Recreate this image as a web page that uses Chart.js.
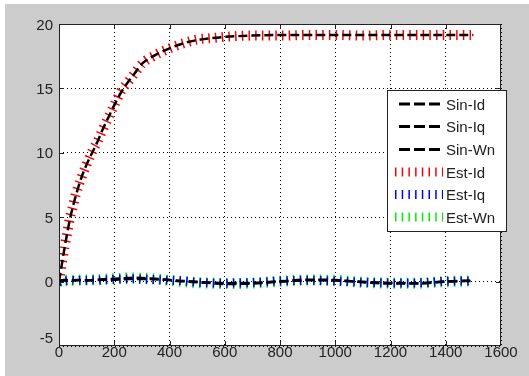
<!DOCTYPE html>
<html>
<head>
<meta charset="utf-8">
<script src="https://cdn.jsdelivr.net/npm/chart.js@4/dist/chart.umd.min.js"></script>
<style>
  html, body { margin: 0; padding: 0; background: #fff; }
  #wrap { width: 529px; height: 376px; }
</style>
</head>
<body>
<div id="wrap"><canvas id="myChart" width="529" height="376"></canvas></div>
<script>
// time axis samples
const time = [0, 10, 20, 30, 40, 50, 60, 80, 100, 120, 140, 160, 180, 200, 225, 250, 275, 300,
  350, 400, 450, 500, 550, 600, 700, 800, 900, 1000, 1100, 1200, 1300, 1400, 1500];

// simulated values
const sinId = [0, 1.3, 2.6, 3.8, 4.9, 5.8, 6.6, 8.0, 9.1, 10.0, 10.9, 11.9, 12.8, 13.7, 14.7, 15.5, 16.2, 16.9,
  17.6, 18.1, 18.5, 18.75, 18.9, 19.0, 19.1, 19.15, 19.15, 19.15, 19.15, 19.15, 19.15, 19.15, 19.15];
const sinIq = [0, 0.05, 0.08, 0.1, 0.1, 0.1, 0.1, 0.1, 0.1, 0.1, 0.12, 0.15, 0.15, 0.15, 0.18, 0.2, 0.2, 0.2,
  0.18, 0.12, 0.05, -0.02, -0.08, -0.12, -0.1, 0.02, 0.1, 0.08, -0.02, -0.1, -0.12, 0.0, 0.05];
const sinWn = [0, 0.1, 0.12, 0.12, 0.12, 0.1, 0.12, 0.12, 0.1, 0.12, 0.15, 0.18, 0.2, 0.22, 0.25, 0.28, 0.3, 0.28,
  0.22, 0.12, 0.02, -0.05, -0.12, -0.18, -0.15, 0.0, 0.15, 0.12, -0.05, -0.15, -0.15, 0.02, 0.08];

// estimated values
const estId = [0, 1.4, 2.7, 3.8, 5.0, 5.8, 6.7, 8.0, 9.1, 10.1, 10.9, 11.9, 12.8, 13.7, 14.8, 15.5, 16.2, 16.9,
  17.6, 18.1, 18.5, 18.8, 18.9, 19.0, 19.1, 19.1, 19.15, 19.15, 19.1, 19.15, 19.15, 19.15, 19.15];
const estIq = [0, 0.05, 0.05, 0.08, 0.1, 0.1, 0.08, 0.1, 0.1, 0.12, 0.12, 0.15, 0.15, 0.18, 0.2, 0.2, 0.22, 0.2,
  0.15, 0.1, 0.05, -0.05, -0.1, -0.12, -0.08, 0.05, 0.1, 0.05, -0.05, -0.1, -0.1, 0.02, 0.05];
const estWn = [0, 0.08, 0.1, 0.1, 0.12, 0.1, 0.1, 0.12, 0.12, 0.15, 0.15, 0.18, 0.2, 0.22, 0.25, 0.28, 0.28, 0.25,
  0.2, 0.1, 0.0, -0.08, -0.12, -0.15, -0.12, 0.02, 0.12, 0.1, -0.05, -0.12, -0.12, 0.0, 0.05];

const xTicks = [0, 200, 400, 600, 800, 1000, 1200, 1400, 1600];
const yTicks = [-5, 0, 5, 10, 15, 20];

const FONT = "15px 'Liberation Sans', Arial, sans-serif";

function pts(ys) {
  return time.map((t, i) => ({ x: t, y: ys[i] }));
}

function sinSet(label, ys) {
  return {
    label: label, data: pts(ys),
    borderColor: "#000", borderWidth: 2.5, borderDash: [9, 4],
    borderCapStyle: "butt", pointRadius: 0, cubicInterpolationMode: "monotone", fill: false
  };
}

function estSet(label, ys, color, w) {
  return {
    label: label, data: pts(ys),
    borderColor: color, borderWidth: w, borderDash: [1.5, 5.2],
    borderCapStyle: "butt", pointRadius: 0, cubicInterpolationMode: "monotone", fill: false
  };
}

// matlab style frame, ticks, labels and legend
const matlabLook = {
  id: "matlabLook",
  beforeDraw(chart) {
    const c = chart.ctx, a = chart.chartArea;
    c.save();
    c.fillStyle = "#fff";
    c.fillRect(0, 0, chart.width, chart.height);
    c.fillStyle = "#cccccc";
    c.fillRect(5, 4, chart.width - 5, chart.height - 4);
    c.fillStyle = "#fff";
    c.fillRect(a.left, a.top, a.right - a.left, a.bottom - a.top);
    c.restore();
  },
  afterDatasetsDraw(chart) {
    const c = chart.ctx, a = chart.chartArea;
    const xs = chart.scales.x, ys = chart.scales.y;
    c.save();
    c.strokeStyle = "#222";
    c.lineWidth = 1;
    c.strokeRect(Math.round(a.left) + 0.5, Math.round(a.top) + 0.5,
      Math.round(a.right - a.left) - 1, Math.round(a.bottom - a.top) - 1);
    c.beginPath();
    xTicks.slice(1, -1).forEach(v => {
      const px = Math.round(xs.getPixelForValue(v)) + 0.5;
      c.moveTo(px, a.bottom); c.lineTo(px, a.bottom - 5);
      c.moveTo(px, a.top); c.lineTo(px, a.top + 5);
    });
    yTicks.slice(1, -1).forEach(v => {
      const py = Math.round(ys.getPixelForValue(v)) + 0.5;
      c.moveTo(a.left, py); c.lineTo(a.left + 5, py);
      c.moveTo(a.right, py); c.lineTo(a.right - 5, py);
    });
    c.stroke();

    c.fillStyle = "#222";
    c.font = FONT;
    c.textBaseline = "alphabetic";
    c.textAlign = "center";
    xTicks.forEach(v => c.fillText(String(v), xs.getPixelForValue(v), 357));
    c.textAlign = "right";
    yTicks.forEach(v => {
      let py = ys.getPixelForValue(v) + 5.5;
      if (v === -5) py -= 9;
      c.fillText(String(v), 53, py);
    });
    c.restore();
  },
  afterDraw(chart) {
    const c = chart.ctx;
    const bx = 387, by = 90, bw = 119, bh = 141;
    const rows = [104, 126.5, 149.5, 172, 194.5, 217];
    c.save();
    c.fillStyle = "#fff";
    c.fillRect(bx, by, bw, bh);
    c.strokeStyle = "#222";
    c.lineWidth = 1;
    c.strokeRect(bx + 0.5, by + 0.5, bw, bh);
    chart.data.datasets.forEach((ds, i) => {
      const y = rows[i];
      const est = ds.borderWidth > 3;
      c.beginPath();
      c.strokeStyle = ds.borderColor;
      c.lineWidth = est ? 9 : 3;
      c.lineCap = "butt";
      c.setLineDash(est ? [1.5, 5.2] : [11, 4]);
      c.moveTo(est ? 395 : 399, y);
      c.lineTo(443, y);
      c.stroke();
      c.setLineDash([]);
      c.fillStyle = "#222";
      c.font = FONT;
      c.textAlign = "left";
      c.textBaseline = "alphabetic";
      c.fillText(ds.label, 446, y + 5.5);
    });
    c.restore();
  }
};

const ctx = document.getElementById("myChart").getContext("2d");

new Chart(ctx, {
  type: "line",
  data: {
    datasets: [
      sinSet("Sin-Id", sinId),
      sinSet("Sin-Iq", sinIq),
      sinSet("Sin-Wn", sinWn),
      estSet("Est-Id", estId, "#ff0000", 10),
      estSet("Est-Iq", estIq, "#0000ff", 9),
      estSet("Est-Wn", estWn, "#00ee00", 11)
    ]
  },
  options: {
    responsive: false,
    animation: false,
    events: [],
    layout: { padding: { left: 59, top: 24, right: 28, bottom: 30 } },
    plugins: { legend: { display: false }, tooltip: { enabled: false } },
    scales: {
      x: {
        type: "linear", min: 0, max: 1600,
        ticks: { display: false, stepSize: 200 },
        grid: { color: "#000", lineWidth: 1, drawTicks: false },
        border: { display: false, dash: [1, 3] },
        afterFit(s) { s.height = 0; }
      },
      y: {
        type: "linear", min: -5, max: 20,
        ticks: { display: false, stepSize: 5 },
        grid: { color: "#000", lineWidth: 1, drawTicks: false },
        border: { display: false, dash: [1, 3] },
        afterFit(s) { s.width = 0; }
      }
    }
  },
  plugins: [matlabLook]
});
</script>
</body>
</html>
